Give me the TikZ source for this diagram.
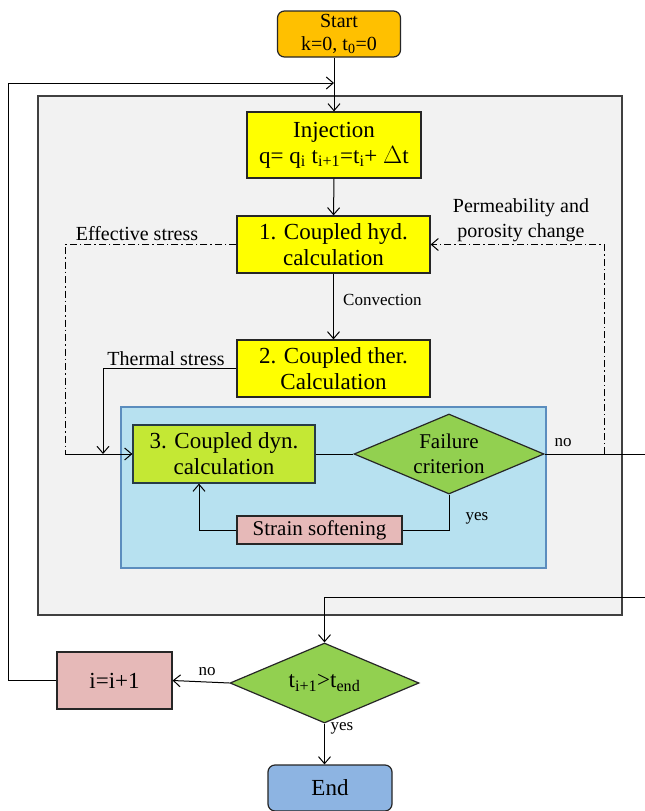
\documentclass[tikz,border=0pt]{standalone}
\usepackage{fontspec}
\setmainfont{Liberation Serif}
\usetikzlibrary{arrows.meta,shapes.geometric,calc}
\definecolor{startor}{RGB}{255,192,0}
\definecolor{yel}{RGB}{255,255,0}
\definecolor{grayfill}{RGB}{242,242,242}
\definecolor{grayline}{RGB}{64,64,64}
\definecolor{bluefill}{RGB}{183,225,240}
\definecolor{blueline}{RGB}{91,141,190}
\definecolor{dynfill}{RGB}{196,232,52}
\definecolor{dynline}{RGB}{40,60,70}
\definecolor{grn}{RGB}{146,208,80}
\definecolor{pnk}{RGB}{230,185,184}
\definecolor{endblue}{RGB}{141,180,226}
\begin{document}
\begin{tikzpicture}[x=1pt,y=-1pt,
  box/.style={draw=black!85, line width=1.2pt, inner sep=0pt, align=center,
    font=\fontsize{23}{26}\selectfont},
  rbox/.style={box, rounded corners=7pt},
  dia/.style={diamond, draw=black!85, line width=1.2pt, inner sep=0pt, fill=grn,
    shape aspect=2.4, align=center, font=\fontsize{21}{25}\selectfont},
  arr/.style={-{Straight Barb[length=7pt,width=12pt]}, line width=1pt},
  ln/.style={line width=1pt},
  dd/.style={dash pattern=on 7pt off 3pt on 1.5pt off 3pt, line width=1pt},
  lbl/.style={font=\fontsize{20}{25}\selectfont, align=center, inner sep=0pt},
  sml/.style={font=\fontsize{17}{19}\selectfont, inner sep=0pt}
]
\useasboundingbox (0,0) rectangle (645,811);
\fill[white] (0,0) rectangle (645,811);

% outer gray region
\draw[fill=grayfill, draw=grayline, line width=1.6pt] (38,96) rectangle (622,615);
% blue region
\draw[fill=bluefill, draw=blueline, line width=1.2pt] (121,407) rectangle (546,568);

% nodes
\node[rbox, fill=startor, minimum width=123pt, minimum height=46pt, font=\fontsize{20}{23}\selectfont] (start) at (339,34)
  {Start\\k=0, t\textsubscript{0}=0};
\node[box, fill=yel, minimum width=174pt, minimum height=66pt] (inj) at (334,145)
  {Injection\\q= q\textsubscript{i} t\textsubscript{i+1}=t\textsubscript{i}+ $\Delta$t};
\node[box, fill=yel, minimum width=193pt, minimum height=57pt] (hyd) at (333.5,244.5)
  {1. Coupled hyd.\\calculation};
\node[box, fill=yel, minimum width=193pt, minimum height=57pt] (ther) at (333.5,368.5)
  {2. Coupled ther.\\Calculation};
\node[box, fill=dynfill, draw=dynline, minimum width=182pt, minimum height=58pt] (dyn) at (224,454)
  {3. Coupled dyn.\\calculation};
\node[dia, minimum width=190pt, minimum height=80pt] (fail) at (449,454)
  {Failure\\criterion};
\node[box, fill=pnk, minimum width=165pt, minimum height=28pt, font=\fontsize{21}{24}\selectfont] (soft) at (319.5,530)
  {Strain softening};
\node[dia, minimum width=189pt, minimum height=80pt, font=\fontsize{23}{26}\selectfont] (dec) at (324.5,683)
  {t\textsubscript{i+1}>t\textsubscript{end}};
\node[box, fill=pnk, minimum width=115pt, minimum height=57pt] (inc) at (114.5,680.5)
  {i=i+1};
\node[rbox, fill=endblue, minimum width=124pt, minimum height=46pt] (end) at (330,788)
  {End};

% helper coordinates
\coordinate (loopin) at (334,83);
\coordinate (loopcorner) at (8,83);
\coordinate (ddL) at (65,454);
\coordinate (ddR) at (604,454);
\coordinate (noend) at (645,454);
\coordinate (retin) at (645,597);
\coordinate (thercol) at (103,454);

% connectors
\draw[arr] (start.south -| inj.north) -- (inj.north);
\draw[arr] (inc.west) -| (loopcorner) -- (loopin);
\draw[arr] (inj.south) -- (hyd.north);
\draw[arr] (hyd.south) -- (ther.north);
\draw[arr] (ther.west) -| (thercol);
\draw[dd] (hyd.west) -| (ddL);
\draw[arr] (ddL) -- (dyn.west);
\draw[ln] (dyn.east) -- (fail.west);
\draw[ln] (fail.east) -- (noend);
\draw[dd, -{Straight Barb[length=7pt,width=12pt]}] (ddR) |- (hyd.east);
\draw[ln] (fail.south) |- (soft.east);
\draw[arr] (soft.west) -| ([xshift=-25pt]dyn.south);
\draw[arr] (retin) -| (dec.north);
\draw[arr] (dec.west) -- (inc.east);
\draw[arr] (dec.south) -- (dec.south |- end.north);

% labels
\node[lbl] (lEff) at (137,234) {Effective stress};
\node[lbl] (lPerm) at (521,220) {Permeability and\\porosity change};
\node[lbl] (lTherm) at (166,359) {Thermal stress};
\node[sml, anchor=west] (lConv) at (343,300) {Convection};
\node[sml] (lno1) at (563,443) {no};
\node[sml] (lyes1) at (477,518) {yes};
\node[sml] (lno2) at (207,672) {no};
\node[sml] (lyes2) at (342,728) {yes};
\end{tikzpicture}
\end{document}
